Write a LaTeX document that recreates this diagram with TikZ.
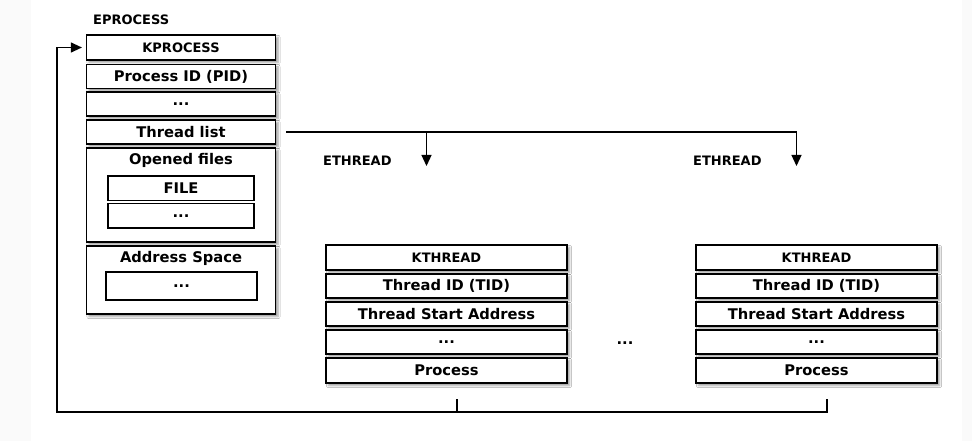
\documentclass[tikz,border=0pt]{standalone}
\usepackage{fontspec}
\setmainfont{DejaVu Sans}
\usetikzlibrary{arrows.meta,shadows.blur}
\definecolor{pagegray}{HTML}{FAFAFA}
\tikzset{
  cell/.style={draw=black, line width=1.2pt, fill=white, inner sep=0pt,
    font=\bfseries\fontsize{14.7}{16}\selectfont,
    blur shadow={shadow xshift=2.5pt, shadow yshift=-2.5pt, shadow blur steps=4, shadow opacity=40}},
  inner/.style={draw=black, line width=1.2pt, fill=white, inner sep=0pt,
    font=\bfseries\fontsize{14.7}{16}\selectfont},
  title/.style={inner sep=0pt, font=\bfseries\fontsize{14.7}{16}\selectfont},
  small/.style={inner sep=0pt, font=\bfseries\fontsize{13}{14}\selectfont},
  conn/.style={draw=black, line width=1.2pt},
  tip/.style={-{Triangle[length=11pt,width=10pt]}}
}
\begin{document}
\begin{tikzpicture}[x=1pt,y=-1pt]
\useasboundingbox (0,0) rectangle (972,441);
\fill[pagegray] (0,0) rectangle (972,441);
\fill[white] (30.5,0) rectangle (962,441);

% EPROCESS
\node[small, anchor=west] (eplabel) at (93,20) {EPROCESS};
\node[cell, small, minimum width=189pt, minimum height=25pt] (kp) at (181,47.5) {KPROCESS};
\node[cell, minimum width=189pt, minimum height=24pt] (pid) at (181,76.5) {Process ID (PID)};
\node[cell, minimum width=189pt, minimum height=24pt] (pdots) at (181,104) {...};
\node[cell, minimum width=189pt, minimum height=24pt] (tl) at (181,132) {Thread list};
\node[cell, minimum width=189pt, minimum height=94pt] (of) at (181,195) {};
\node[title] (oflabel) at (181,160) {Opened files};
\node[inner, minimum width=146pt, minimum height=24.5pt] (file) at (181,188.2) {FILE};
\node[inner, minimum width=146pt, minimum height=24.5pt] (fdots) at (181,215.8) {...};
\node[cell, minimum width=189pt, minimum height=68pt] (as) at (181,280) {};
\node[title] (aslabel) at (181,258) {Address Space};
\node[inner, minimum width=151pt, minimum height=28pt] (asdots) at (181.5,286) {...};

% ETHREAD columns
\foreach \n/\cx/\lx in {a/446.5/323, b/816.5/693}{
  \node[small, anchor=west] (eth\n) at (\lx,160.5) {ETHREAD};
  \node[cell, small, minimum width=241pt, minimum height=25pt] (kt\n) at (\cx,257.5) {KTHREAD};
  \node[cell, minimum width=241pt, minimum height=24pt] (tid\n) at (\cx,286) {Thread ID (TID)};
  \node[cell, minimum width=241pt, minimum height=24pt] (tsa\n) at (\cx,314) {Thread Start Address};
  \node[cell, minimum width=241pt, minimum height=24pt] (td\n) at (\cx,342) {...};
  \node[cell, minimum width=241pt, minimum height=25pt] (pr\n) at (\cx,370.5) {Process};
  \coordinate (in\n) at ([xshift=-20pt]kt\n.north |- 0,166);
  \coordinate (out\n) at ([xshift=10.5pt]pr\n.south |- 0,399);
}
\node[title] (middots) at (625,343) {...};

% Thread list connector
\coordinate (tlstart) at ([xshift=10pt]tl.east);
\draw[conn, tip, line join=miter] (tlstart) -- (tlstart -| inb) -- (inb);
\draw[conn, tip] (tlstart -| ina) -- (ina);

% Process return connector
\coordinate (loopleft) at (57,412);
\draw[conn] (outa) -- (outa |- loopleft);
\draw[conn, tip] (outb) -- (outb |- loopleft) -- (loopleft) -- (loopleft |- kp.west) -- ([xshift=-4pt]kp.west);
\end{tikzpicture}
\end{document}
